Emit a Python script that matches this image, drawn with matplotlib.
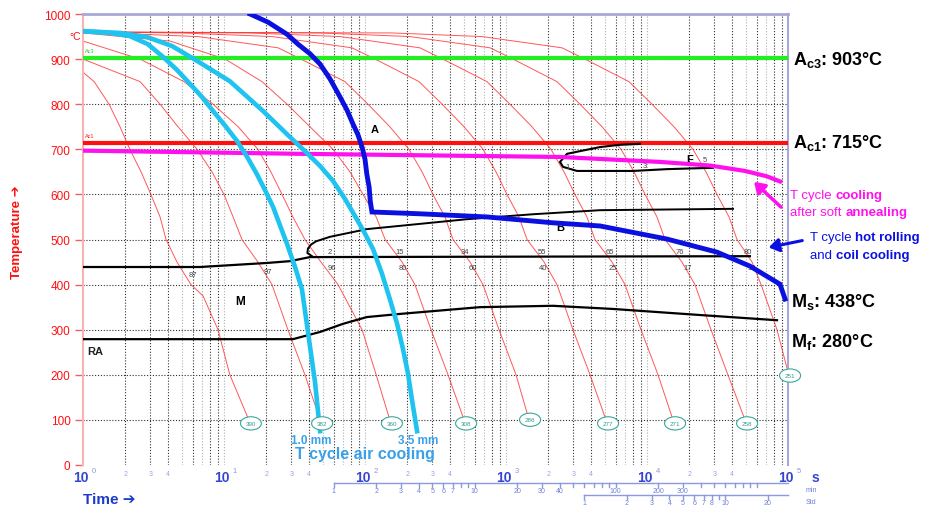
import numpy as np
import matplotlib
matplotlib.use('Agg')
import matplotlib.pyplot as plt

plt.rcParams['font.family'] = ['Liberation Sans', 'DejaVu Sans']
plt.rcParams['mathtext.fontset'] = 'custom'
plt.rcParams['mathtext.rm'] = 'Liberation Sans'
plt.rcParams['mathtext.bf'] = 'Liberation Sans:bold'

# ---- data (time in s, temperature in degC) ----
lvl = [960, 958, 950, 925, 900, 850, 800, 750, 700, 650, 600, 550, 500, 450, 400, 300, 200, 100]

cool_times = [
    [1.0, 1.2, 1.53, 1.83, 2.15, 2.58, 3.03, 3.52, 3.88, 4.64, 5.83, 7.1, 9.07, 11.0, 15.0],
    [1.0, 2.54, 3.52, 4.72, 6.44, 8.22, 10.0, 11.6, 13.4, 17.4, 21.9, 28.4, 37.5, 48.0],
    [1.0, 2.54, 5.2, 8.36, 12.6, 17.4, 21.5, 25.8, 30.8, 37.5, 48.7, 64.4, 95.3, 120, 150],
    [1.0, 4.14, 10.2, 18.6, 28.0, 40.7, 59.3, 78.3, 96.8, 120, 139, 183, 226, 294, 388, 504],
    [1.0, 1.5, 6.54, 24.2, 35.2, 72.1, 105, 150, 205, 254, 303, 369, 421, 556, 687, 892, 1178, 1432],
    [1.0, 5.04, 21.9, 80.9, 118, 242, 352, 504, 687, 849, 1016, 1236, 1409, 1862, 2300, 2985, 3945, 5117],
    [1.0, 15.3, 66.5, 245, 357, 733, 1067, 1528, 2084, 2578, 3083, 3750, 4276, 5649, 6982, 9065, 11970, 15290],
    [1.0, 48.0, 208, 771, 1122, 2300, 3350, 4797, 6546, 8090, 9683, 11770, 13430, 17700, 21890, 28440, 37500, 49550],
    [1.0, 155, 676, 2495, 3631, 7450, 10850, 15530, 21190, 26200, 31340, 38180, 43480, 55590, 64400, 83570, 100000],
]
cool_temps = [
    [871, 850, 800, 750, 700, 650, 600, 550, 500, 450, 400, 375, 300, 200, 100],
    [900, 850, 800, 750, 700, 650, 600, 550, 500, 450, 400, 300, 200, 100],
    [940, 900, 850, 800, 750, 700, 650, 600, 550, 500, 450, 400, 300, 200, 100],
    [958, 940, 900, 850, 800, 750, 700, 650, 600, 550, 500, 450, 400, 300, 200, 100],
    [960, 958, 950, 925, 900, 850, 800, 750, 700, 650, 600, 550, 500, 450, 400, 300, 200, 108],
    lvl,
    lvl,
    lvl,
    [960, 958, 950, 925, 900, 850, 800, 750, 700, 650, 600, 550, 500, 450, 400, 300, 206],
]
hardness = [390, 382, 360, 308, 286, 277, 271, 258, 251]

# phase percentages along the bainite band
pct_top = ['2', '15', '34', '55', '65', '76', '80']
pct_top_t = [56.5, 177, 512, 1800, 5470, 17140, 52000]
pct_bot = ['96', '80', '60', '40', '25', '17', '18']
pct_bot_t = [58.3, 186, 583, 1830, 5740, 19530, 55590]
mart_lab = ['87', '97']
mart_lab_t = [6.03, 20.5]
mart_lab_T = [423, 428]
ferr_lab = ['1', '3', '5']
ferr_lab_t = [2754, 9683, 25760]
ferr_lab_T = [661, 663, 678]

# transformation lines
ms_t = [1, 6.76, 20.2, 29.4, 40.7, 53700]
ms_T = [439, 439, 448, 452, 461, 463]
bs_t = [42.1, 39.0, 39.4, 41.5, 45, 56.5, 103, 529, 1554, 4645, 40740]
bs_T = [463, 470, 480, 489, 496, 506, 523, 545, 556, 565, 568]
mf_t = [1, 30.8, 48.0, 69.8, 103, 177, 654, 2155, 5740, 22640, 83570]
mf_T = [279, 279, 295, 313, 328, 335, 350, 353, 346, 333, 321]
fs_t = [29380, 13860, 7960, 3190, 2540, 2415, 2710, 4645, 6440, 8920]
fs_T = [659, 656, 652, 652, 661, 672, 690, 705, 710, 712]

# process cycles
hot_t = [15.3, 20.5, 28.0, 33.5, 40.7, 48.0, 56.5, 66.5, 74.5, 82.2, 89.2, 95.3, 100, 103, 107, 109, 112,
         245, 733, 2155, 4645, 13860, 31340, 53700, 87700, 95300]
hot_T = [1000, 982, 955, 933, 912, 889, 856, 816, 787, 756, 732, 705, 678, 645, 616, 585, 561,
         557, 550, 537, 530, 501, 472, 441, 401, 368]
soft_t = [1, 34.6, 2415, 12360, 27990, 49550, 70990, 90640]
soft_T = [697, 690, 683, 672, 664, 652, 640, 627]
air10_t = [1.0, 1.55, 2.15, 2.89, 3.69, 4.64, 5.74, 6.98, 8.36, 10.2, 12.4, 14.6, 17.1, 19.5, 22.3,
           24.9, 28.0, 31.9, 35.7, 39.4, 44.2, 48.0]
air10_T = [962, 958, 951, 933, 905, 876, 845, 816, 785, 752, 718, 683, 645, 610, 572,
           532, 490, 439, 390, 295, 184, 75]
air35_t = [1.0, 1.83, 2.84, 4.28, 6.44, 11.0, 18.9, 29.4, 37.5, 48.0, 59.3, 72.1, 84.9, 98.4, 114,
           132, 150, 169, 186, 202, 215, 234]
air35_T = [962, 958, 949, 929, 896, 851, 785, 727, 696, 663, 630, 590, 552, 517, 479,
           424, 368, 313, 257, 202, 146, 75]
Ac3 = 903
Ac1 = 715

RED = '#ff1010'
MAG = '#ff10ee'
BLUE = '#0a10e0'
CYAN = '#1ec3f0'
AXBLUE = '#3446d0'


def fx(px):
    return px / 930.0


def fy(py):
    return 1 - py / 510.0


fig = plt.figure(figsize=(9.3, 5.1), dpi=100)
ax = fig.add_axes([fx(83), 44 / 510, 705 / 930, 451 / 510])
ax.set_xscale('log')
ax.set_xlim(1, 1e5)
ax.set_ylim(0, 1000)

# grid
for d in range(5):
    for m in range(2, 11):
        x = m * 10 ** d
        if x >= 1e5:
            continue
        c = '#b0b0b0' if m in (5, 7, 10) else '#303030'
        ax.axvline(x, color=c, lw=0.8, ls=(0, (1, 1.6)), zorder=1)
for T in range(100, 1000, 100):
    ax.axhline(T, color='#303030', lw=0.8, ls=(0, (1, 1.6)), zorder=1)

ax.spines['bottom'].set_visible(False)
ax.spines['top'].set_color('#a8a8d8')
ax.spines['top'].set_linewidth(2)
ax.spines['right'].set_color('#a8a8d8')
ax.spines['right'].set_linewidth(1.5)
ax.spines['left'].set_color('#f6b3b3')
ax.spines['left'].set_linewidth(1.5)

ax.set_yticks(range(0, 1001, 100))
ax.set_yticklabels([str(v) for v in range(0, 1001, 100)])
ax.tick_params(axis='y', colors='#f06060', labelcolor=RED, length=6, width=1, pad=3, labelsize=8.5)
ax.tick_params(axis='x', which='both', bottom=False, labelbottom=False)
ax.minorticks_off()

# thin cooling curves
for tt, TT in zip(cool_times, cool_temps):
    ax.plot(tt, TT, color='#ff3a3a', lw=0.7, alpha=0.85, zorder=2)
for tt, TT, h in zip(cool_times, cool_temps, hardness):
    ax.annotate(str(h), xy=(tt[-1], TT[-1]), xytext=(1.5, -2.5), textcoords='offset points',
                fontsize=4.5, color='#2e9c8e', ha='center', va='center', annotation_clip=False,
                bbox=dict(boxstyle='ellipse,pad=0.35', fc='white', ec='#3aa89a', lw=0.8), zorder=6)

# transformation lines
ax.plot(ms_t, ms_T, color='black', lw=1.6, zorder=4)
ax.plot(bs_t, bs_T, color='black', lw=1.4, zorder=4)
ax.plot(mf_t, mf_T, color='black', lw=1.6, zorder=4)
ax.plot(fs_t, fs_T, color='black', lw=1.5, zorder=4)

for lab, t in zip(pct_top, pct_top_t):
    ax.text(t, 474, lab, fontsize=5.5, color='#444444', ha='center', va='center', zorder=5)
for lab, t in zip(pct_bot, pct_bot_t):
    ax.text(t, 438, lab, fontsize=5.5, color='#444444', ha='center', va='center', zorder=5)
for lab, t, T in zip(mart_lab, mart_lab_t, mart_lab_T):
    ax.text(t, T, lab, fontsize=5.5, color='#444444', ha='center', va='center', zorder=5)
for lab, t, T in zip(ferr_lab, ferr_lab_t, ferr_lab_T):
    ax.text(t, T, lab, fontsize=5.5, color='#444444', ha='center', va='center', zorder=5)

ax.text(118, 745, 'A', fontsize=8, fontweight='bold', ha='center', va='center')
ax.text(2415, 528, 'B', fontsize=8, fontweight='bold', ha='center', va='center')
ax.text(20180, 678, 'F', fontsize=8, fontweight='bold', ha='center', va='center')
ax.text(13, 364, 'M', fontsize=8.5, fontweight='bold', ha='center', va='center')
ax.text(1.22, 253, 'RA', fontsize=8, fontweight='bold', ha='center', va='center', color='#222222')

# critical temperatures
ax.axhline(Ac3, color='#22ee22', lw=3, zorder=3)
ax.axhline(Ac1, color=RED, lw=3, zorder=3)
ax.text(1.03, Ac3 + 12, 'Ac3', fontsize=4, color='#22cc22')
ax.text(1.03, Ac1 + 12, 'Ac1', fontsize=4, color=RED)

# process cycles
ax.plot(soft_t, soft_T, color=MAG, lw=3, zorder=5, solid_capstyle='butt')
ax.plot(air10_t, air10_T, color=CYAN, lw=3.3, zorder=5)
ax.plot(air35_t, air35_T, color=CYAN, lw=3.3, zorder=5)
ax.plot(hot_t, hot_T, color=BLUE, lw=3.5, zorder=6, solid_joinstyle='miter')

# x axis decoration (drawn in axes coords below the plot)
xt = ax.get_xaxis_transform()
for d in range(6):
    ax.annotate('10', xy=(10 ** d, 0), xycoords=xt, xytext=(-2.5, -12), textcoords='offset pixels',
                fontsize=10, fontweight='bold', color=AXBLUE, ha='center', va='center', annotation_clip=False)
    ax.annotate(str(d), xy=(10 ** d, 0), xycoords=xt, xytext=(11, -6), textcoords='offset pixels',
                fontsize=5.5, color='#8c98e0', ha='center', va='center', annotation_clip=False)
    if d < 5:
        for m in (2, 3, 4):
            ax.annotate(str(m), xy=(m * 10 ** d, 0), xycoords=xt, xytext=(0, -9), textcoords='offset pixels',
                        fontsize=5, color='#98a4e4', ha='center', va='center', annotation_clip=False)
ax.annotate('s', xy=(1e5, 0), xycoords=xt, xytext=(27, -12), textcoords='offset pixels',
            fontsize=10, fontweight='bold', color=AXBLUE, ha='center', va='center', annotation_clip=False)

# minute and hour scales
min_ticks = [1, 2, 3, 4, 5, 6, 7, 8, 9, 10, 20, 30, 40, 50, 60, 70, 80, 90, 100, 200, 300, 400, 500, 600, 700, 800, 900, 1000]
min_labels = [1, 2, 3, 4, 5, 6, 7, 10, 20, 30, 40, 100, 200, 300]
hr_ticks = [1, 2, 3, 4, 5, 6, 7, 8, 9, 10, 20]
hr_labels = [1, 2, 3, 4, 5, 6, 7, 8, 10, 20]

y_min = -18 / 451
y_hr = -30 / 451
ax.plot([60, 1e5], [y_min, y_min], transform=xt, color='#8c98e0', lw=1, clip_on=False)
for m in min_ticks:
    ax.plot([m * 60, m * 60], [y_min, y_min - 4 / 451], transform=xt, color='#8c98e0', lw=1, clip_on=False)
for m in min_labels:
    ax.text(m * 60, y_min - 8 / 451, str(m), transform=xt, fontsize=5, color='#7080d8',
            ha='center', va='center')
ax.plot([3600, 1e5], [y_hr, y_hr], transform=xt, color='#8c98e0', lw=1, clip_on=False)
for h in hr_ticks:
    ax.plot([h * 3600, h * 3600], [y_hr, y_hr - 4 / 451], transform=xt, color='#8c98e0', lw=1, clip_on=False)
for h in hr_labels:
    ax.text(h * 3600, y_hr - 8 / 451, str(h), transform=xt, fontsize=5, color='#7080d8',
            ha='center', va='center')
fig.text(fx(806), fy(491), 'min', fontsize=5, color='#7080d8', va='center')
fig.text(fx(806), fy(503), 'Std', fontsize=5, color='#7080d8', va='center')

# axis titles
fig.text(fx(75), fy(37), '°C', fontsize=7.5, color=RED, ha='center', va='center')
fig.text(fx(17), fy(232), 'Temperature ➔', fontsize=9.5, fontweight='bold', color=RED,
         rotation=90, ha='center', va='center')
fig.text(fx(83), fy(500), 'Time ➔', fontsize=11, fontweight='bold', color='#1c3cc8',
         ha='left', va='center')

# air cooling labels
AIR = '#3aa0ea'
fig.text(fx(311), fy(441), '1.0 mm', fontsize=8.5, fontweight='bold', color=AIR, ha='center', va='center')
fig.text(fx(418), fy(441), '3.5 mm', fontsize=8.5, fontweight='bold', color=AIR, ha='center', va='center')
fig.text(fx(365), fy(455), 'T cycle air cooling', fontsize=11.5, fontweight='bold', color=AIR,
         ha='center', va='center')

# right side labels
fig.text(fx(793), fy(60), r'$\mathbf{A_{c3}}$: 903°C', fontsize=13, fontweight='bold', va='center')
fig.text(fx(793), fy(143), r'$\mathbf{A_{c1}}$: 715°C', fontsize=13, fontweight='bold', va='center')
fig.text(fx(791), fy(302), r'$\mathbf{M_{s}}$: 438°C', fontsize=13, fontweight='bold', va='center')
fig.text(fx(791), fy(342), r'$\mathbf{M_{f}}$: 280°C', fontsize=13, fontweight='bold', va='center')


def two_part(x, y, a, b, color, size):
    t1 = fig.text(fx(x), fy(y), a, fontsize=size, color=color, va='center', ha='left')
    ax.annotate(b, xy=(1, 0.5), xycoords=t1, fontsize=size, fontweight='bold', color=color,
                va='center', ha='left', annotation_clip=False)


two_part(790, 196, 'T cycle ', 'cooling', MAG, 9.5)
two_part(790, 213, 'after soft ', 'annealing', MAG, 9.5)
two_part(810, 238, 'T cycle ', 'hot rolling', BLUE, 9.5)
two_part(810, 256, 'and ', 'coil cooling', BLUE, 9.5)

# arrows
fig.add_artist(matplotlib.patches.FancyArrowPatch((fx(783), fy(210)), (fx(752), fy(181)),
               transform=fig.transFigure, arrowstyle='-|>,head_length=6,head_width=4',
               color=MAG, lw=2.5))
fig.add_artist(matplotlib.patches.FancyArrowPatch((fx(805), fy(241)), (fx(766), fy(249)),
               transform=fig.transFigure, arrowstyle='-|>,head_length=6,head_width=4',
               color=BLUE, lw=2.2))

fig.savefig('out.png', dpi=100)
